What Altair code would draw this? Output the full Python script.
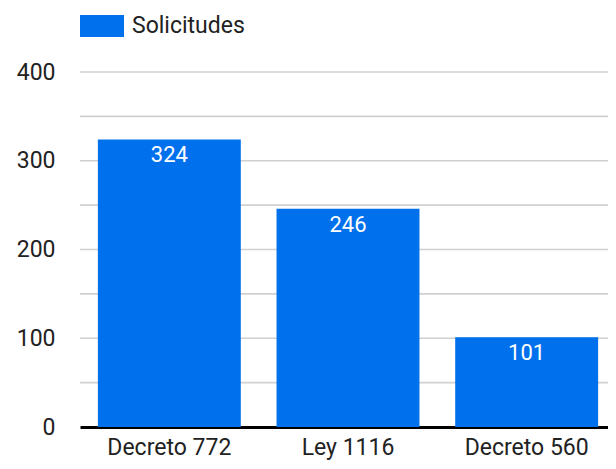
import altair as alt
import pandas as pd

categories = ["Decreto 772", "Ley 1116", "Decreto 560"]
values = [324, 246, 101]
series = ["Solicitudes", "Solicitudes", "Solicitudes"]
grid_values = [50, 100, 150, 200, 250, 300, 350, 400]
tick_values = [0, 100, 200, 300, 400]

df = pd.DataFrame({"cat": categories, "val": values, "serie": series})

BLUE = "#0070EC"
FONT = "Roboto"

yscale = alt.Scale(domain=[0, 400], nice=False)

base = alt.Chart(df).encode(
    x=alt.X("cat:N", sort=categories, title=None,
            scale=alt.Scale(paddingInner=0.2, paddingOuter=0.1, range=[0, 536]),
            axis=alt.Axis(labelAngle=0, labelFontSize=23, labelFont=FONT,
                          labelColor="#222222", labelPadding=9, ticks=False,
                          domainColor="#000000", domainWidth=3, grid=False)),
    y=alt.Y("val:Q", title=None, scale=yscale,
            axis=alt.Axis(values=tick_values, labelFontSize=23,
                          labelFont=FONT, labelColor="#222222", labelPadding=25,
                          ticks=False, domain=False, grid=False)),
)

grid = alt.Chart(pd.DataFrame({"g": grid_values})).mark_rule(
    color="#d0d0d0", strokeWidth=1.6
).encode(y=alt.Y("g:Q", scale=yscale))

bars = base.mark_bar(color=BLUE).encode(
    color=alt.Color("serie:N", scale=alt.Scale(range=[BLUE]),
                    legend=alt.Legend(title=None, orient="none", legendX=0, legendY=-68,
                                      symbolType="M-1,-0.5H1V0.5H-1Z", symbolSize=1936,
                                      symbolStrokeWidth=0, labelFontSize=23, labelFont=FONT,
                                      labelColor="#222222", labelOffset=8, padding=0))
)

labels = base.mark_text(color="white", fontSize=22, font=FONT, baseline="top", dy=6).encode(
    text=alt.Text("val:Q")
)

chart = alt.layer(grid, bars, labels).properties(
    width=528, height=355,
    autosize=alt.AutoSizeParams(type="none"),
    padding={"left": 72, "top": 64, "right": 0, "bottom": 34},
).configure_view(stroke=None)

chart.save("out.html", embed_options={"renderer": "svg", "actions": False})
